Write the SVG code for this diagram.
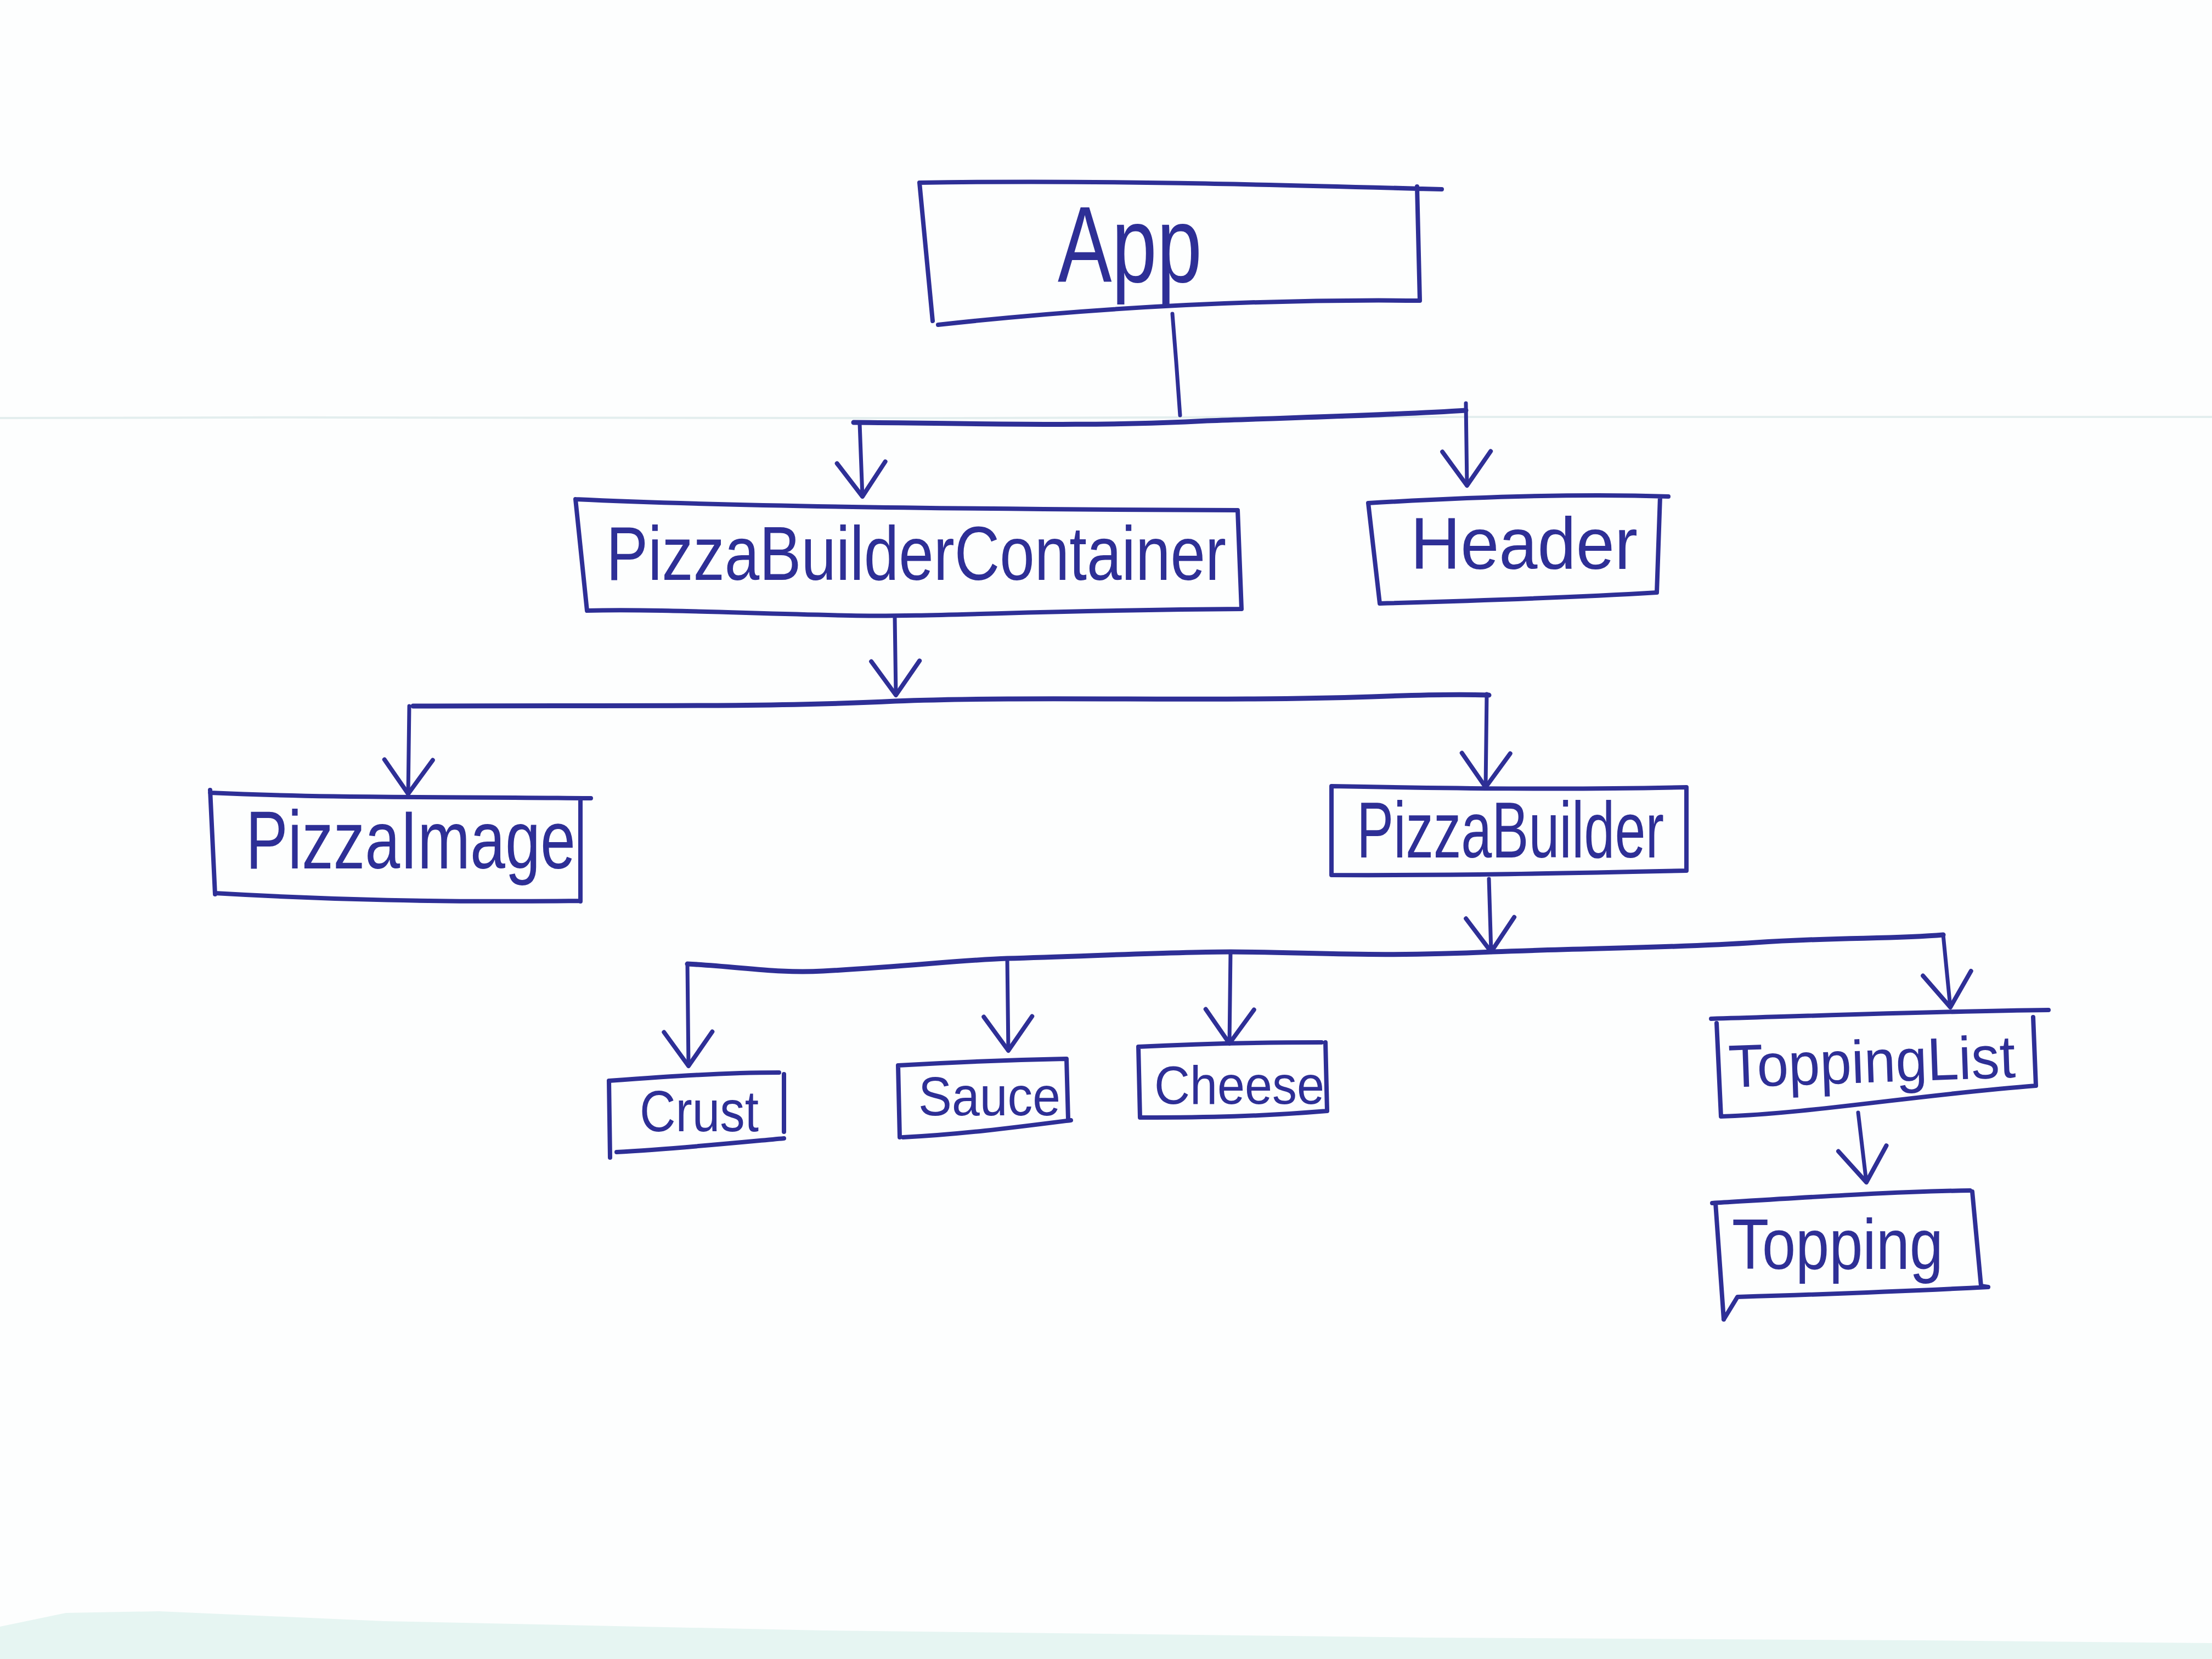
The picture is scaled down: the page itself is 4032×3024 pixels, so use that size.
<svg xmlns="http://www.w3.org/2000/svg" width="4032" height="3024" viewBox="0 0 4032 3024">
<defs>
<style>
.box{fill:none;stroke:#2e2f96;stroke-width:8;stroke-linejoin:round;stroke-linecap:round}
.ln{fill:none;stroke:#2e2f96;stroke-width:7;stroke-linecap:round;stroke-linejoin:round}
.bus{fill:none;stroke:#2e2f96;stroke-width:9;stroke-linecap:round;stroke-linejoin:round}
.lbl{font-family:"Liberation Sans","DejaVu Sans",sans-serif;fill:#2e2f96;font-weight:normal}
</style>
<marker id="arr" markerUnits="userSpaceOnUse" markerWidth="200" markerHeight="200" viewBox="-100 -100 200 200" refX="0" refY="0" orient="auto" overflow="visible">
<path d="M-62,-44 L0,0 L-62,44" fill="none" stroke="#2e2f96" stroke-width="8" stroke-linecap="round" stroke-linejoin="round"/>
</marker>
</defs>
<rect x="0" y="0" width="4032" height="3024" fill="#fdfefe"/>
<path d="M0,762 C800,758 1600,766 2400,760 C3100,756 3600,764 4032,760" fill="none" stroke="#e3eeee" stroke-width="4"/>
<path d="M0,2965 L120,2940 L290,2937 L700,2955 L1500,2972 L2600,2985 L3500,2990 L4032,2995 L4032,3024 L0,3024 Z" fill="#e6f5f2"/>

<g id="connectors">
<path class="ln" d="M2137,572 L2144,660 L2151,757"/>
<path class="bus" d="M1556,770 C1800,772 2000,778 2200,767 C2400,760 2550,756 2672,748"/>
<path class="ln" d="M1567,772 L1572,905" marker-end="url(#arr)"/>
<path class="ln" d="M2672,735 L2674,885" marker-end="url(#arr)"/>
<path class="ln" d="M1631,1125 L1633,1267" marker-end="url(#arr)"/>
<path class="bus" d="M753,1287 C1100,1285 1400,1290 1632,1278 C1900,1268 2200,1280 2500,1270 C2600,1266 2680,1266 2714,1267"/>
<path class="ln" d="M746,1287 L744,1447" marker-end="url(#arr)"/>
<path class="ln" d="M2710,1265 L2708,1435" marker-end="url(#arr)"/>
<path class="ln" d="M2714,1602 L2718,1735" marker-end="url(#arr)"/>
<path class="bus" d="M1253,1757 C1350,1762 1420,1775 1500,1770 C1650,1762 1750,1750 1836,1747 C2000,1742 2150,1735 2243,1735 C2400,1736 2500,1745 2720,1735 C2900,1728 3050,1728 3200,1718 C3350,1708 3450,1712 3542,1704"/>
<path class="ln" d="M1253,1757 L1255,1943" marker-end="url(#arr)"/>
<path class="ln" d="M1836,1747 L1838,1915" marker-end="url(#arr)"/>
<path class="ln" d="M2243,1735 L2241,1902" marker-end="url(#arr)"/>
<path class="ln" d="M3542,1704 L3555,1836" marker-end="url(#arr)"/>
<path class="ln" d="M3387,2028 L3402,2155" marker-end="url(#arr)"/>
</g>

<g id="node-app">
<path class="box" d="M1676,333 C2000,328 2300,336 2628,345 M2583,340 L2588,548 M2588,548 C2300,545 2000,560 1710,592 M1676,333 L1700,585"/>
<text class="lbl" x="1928" y="514" font-size="197" textLength="263" lengthAdjust="spacingAndGlyphs">App</text>
</g>

<g id="node-pizzabuildercontainer">
<path class="box" d="M1049,910 C1300,922 1700,928 2256,930 M2256,930 L2263,1110 M2263,1110 C1900,1112 1700,1125 1550,1122 C1350,1118 1200,1110 1070,1113 M1049,910 L1070,1113"/>
<text class="lbl" x="1105" y="1057" font-size="140" textLength="1130" lengthAdjust="spacingAndGlyphs">PizzaBuilderContainer</text>
</g>

<g id="node-header">
<path class="box" d="M2494,917 C2700,905 2900,900 3041,905 M3026,905 L3020,1080 M3020,1080 C2850,1090 2700,1095 2515,1100 M2494,917 L2515,1100"/>
<text class="lbl" x="2571" y="1037" font-size="133" textLength="414" lengthAdjust="spacingAndGlyphs">Header</text>
</g>

<g id="node-pizzaimage">
<path class="box" d="M383,1445 C600,1455 800,1452 1077,1455 M1058,1455 L1058,1643 M1058,1642 C800,1645 600,1640 392,1628 M383,1440 L392,1630"/>
<text class="lbl" x="448" y="1583" font-size="150" textLength="601" lengthAdjust="spacingAndGlyphs">PizzaImage</text>
</g>

<g id="node-pizzabuilder">
<path class="box" d="M2427,1433 C2650,1437 2850,1440 3074,1435 M3074,1435 L3074,1587 M3074,1587 C2850,1592 2650,1596 2427,1595 M2427,1433 L2427,1595"/>
<text class="lbl" x="2473" y="1563" font-size="145" textLength="560" lengthAdjust="spacingAndGlyphs">PizzaBuilder</text>
</g>

<g id="node-crust">
<path class="box" d="M1110,1970 C1220,1962 1320,1955 1420,1955 M1429,1958 L1429,2063 M1429,2075 C1320,2085 1220,2095 1124,2100 M1110,1970 L1112,2110"/>
<text class="lbl" x="1166" y="2062" font-size="105" textLength="217" lengthAdjust="spacingAndGlyphs">Crust</text>
</g>

<g id="node-sauce">
<path class="box" d="M1637,1942 C1740,1936 1840,1932 1942,1930 M1944,1930 L1947,2040 M1952,2042 C1850,2055 1750,2068 1646,2073 M1637,1942 L1640,2073"/>
<text class="lbl" x="1674" y="2033" font-size="100" textLength="259" lengthAdjust="spacingAndGlyphs">Sauce</text>
</g>

<g id="node-cheese">
<path class="box" d="M2075,1908 C2190,1902 2300,1900 2409,1900 M2416,1900 L2419,2025 M2419,2025 C2300,2035 2200,2037 2081,2037 M2075,1908 L2078,2037"/>
<text class="lbl" x="2104" y="2012" font-size="98" textLength="310" lengthAdjust="spacingAndGlyphs">Cheese</text>
</g>

<g id="node-toppinglist">
<path class="box" d="M3119,1857 C3350,1850 3550,1843 3734,1841 M3706,1854 L3711,1979 M3711,1979 C3500,1995 3300,2030 3137,2035 M3129,1865 L3137,2035"/>
<text class="lbl" x="3152" y="1982" font-size="110" textLength="523" lengthAdjust="spacingAndGlyphs" transform="rotate(-2 3152 1982)">ToppingList</text>
</g>

<g id="node-topping">
<path class="box" d="M3121,2193 C3300,2182 3450,2172 3591,2170 M3595,2172 L3611,2344 L3624,2346 M3624,2346 C3450,2355 3300,2360 3167,2364 L3142,2405 M3127,2193 L3142,2405"/>
<text class="lbl" x="3157" y="2313" font-size="130" textLength="385" lengthAdjust="spacingAndGlyphs">Topping</text>
</g>
</svg>
